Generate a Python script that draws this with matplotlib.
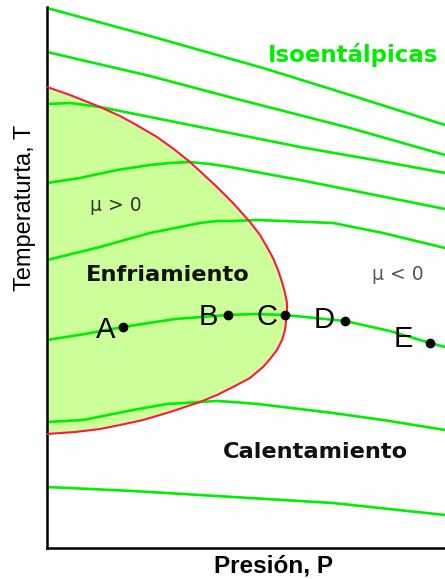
import matplotlib.pyplot as plt

# Isenthalps (pressure P, temperature T), arbitrary units
isenthalps = [
    ([0, 103, 216, 303, 398], [540, 512, 480, 453, 423]),
    ([0, 103, 186, 303, 398], [496, 472, 450, 420, 393]),
    ([0, 23, 53, 153, 253, 333, 398], [444, 445, 441, 421, 401, 387, 375]),
    ([0, 33, 70, 103, 123, 143, 163, 183, 220, 253, 303, 363, 398],
     [365, 370, 378, 383, 385, 386, 384, 381, 374, 368, 358, 346, 339]),
    ([0, 53, 103, 153, 170, 186, 211, 236, 261, 286, 336, 398],
     [288, 301, 315, 325, 327, 327, 328, 327, 326, 325, 315, 300]),
    ([0, 38, 76, 128, 181, 209, 238, 298, 343, 383, 398],
     [208, 214, 221, 229, 233, 234, 233, 227, 217, 205, 201]),
    ([0, 36, 86, 120, 153, 170, 186, 211, 236, 286, 336, 398],
     [126, 128, 138, 144, 146, 147, 146, 144, 141, 135, 128, 118]),
    ([0, 86, 186, 286, 398], [61, 57, 51, 45, 33]),
]

# inversion curve (boundary of the cooling region)
inv_P = [0, 23, 53, 73, 86, 110, 128, 143, 156, 170, 186, 203, 213, 220, 226,
         231, 235, 238, 240, 240, 239, 238, 235, 230, 223, 216, 203, 186, 170,
         153, 123, 96, 73, 53, 28, 0]
inv_T = [461, 453, 441, 432, 425, 411, 398, 386, 374, 361, 345, 326, 313, 301,
         290, 278, 266, 255, 245, 235, 226, 218, 208, 198, 189, 181, 170, 161,
         153, 146, 136, 128, 123, 119, 116, 114]

# states A-E on one isenthalp
point_labels = ["A", "B", "C", "D", "E"]
point_P = [76, 181, 238, 298, 383]
point_T = [221, 233, 233, 227, 205]
label_offsets = [(-8, -11), (-10, -10), (-8, -10), (-10, -7), (-17, -4)]

green = "#00ee00"
red = "#ff1744"
fill_color = "#ccff99"

fig = plt.figure(figsize=(4.45, 5.79), dpi=100)
ax = fig.add_axes([47 / 445, 31 / 579, 398 / 445, 541 / 579])

ax.fill(inv_P, inv_T, color=fill_color, zorder=1)
for P, T in isenthalps:
    ax.plot(P, T, color=green, linewidth=1.9, solid_joinstyle="round", zorder=2)
ax.plot(inv_P, inv_T, color=red, linewidth=1.5, solid_joinstyle="round", zorder=3)
ax.plot(point_P, point_T, "o", color="black", markersize=6, zorder=4)

for lab, p, t, off in zip(point_labels, point_P, point_T, label_offsets):
    ax.annotate(lab, (p, t), xytext=off, textcoords="offset pixels",
                ha="right", va="baseline", fontsize=21,
                family="Liberation Sans", color="black")

ax.text(306, 486, "Isoentálpicas", color=green, fontsize=16.5,
        fontweight="bold", ha="center", va="baseline")
ax.text(121, 267, "Enfriamiento", color="#111111", fontsize=16.2,
        fontweight="bold", ha="center", va="baseline")
ax.text(268, 90, "Calentamiento", color="#111111", fontsize=16.2,
        fontweight="bold", ha="center", va="baseline")
ax.text(43, 337, "μ > 0", color="#333333", fontsize=13.5, va="baseline")
ax.text(325, 268, "μ < 0", color="#555555", fontsize=13.5, va="baseline")

fig.text(25 / 445, 1 - 208 / 579, "Temperaturta, T", rotation=90,
         ha="center", va="center", fontsize=17, family="Liberation Sans")
fig.text(273 / 445, 1 - 573 / 579, "Presión, P", ha="center", va="baseline",
         fontsize=17.5, fontweight="bold", family="Liberation Sans")

ax.set_xlim(0, 398)
ax.set_ylim(0, 541)
ax.set_xticks([])
ax.set_yticks([])
for side in ["top", "right"]:
    ax.spines[side].set_visible(False)
for side in ["left", "bottom"]:
    ax.spines[side].set_linewidth(1.8)
    ax.spines[side].set_color("black")

fig.savefig("out.png", dpi=100)
